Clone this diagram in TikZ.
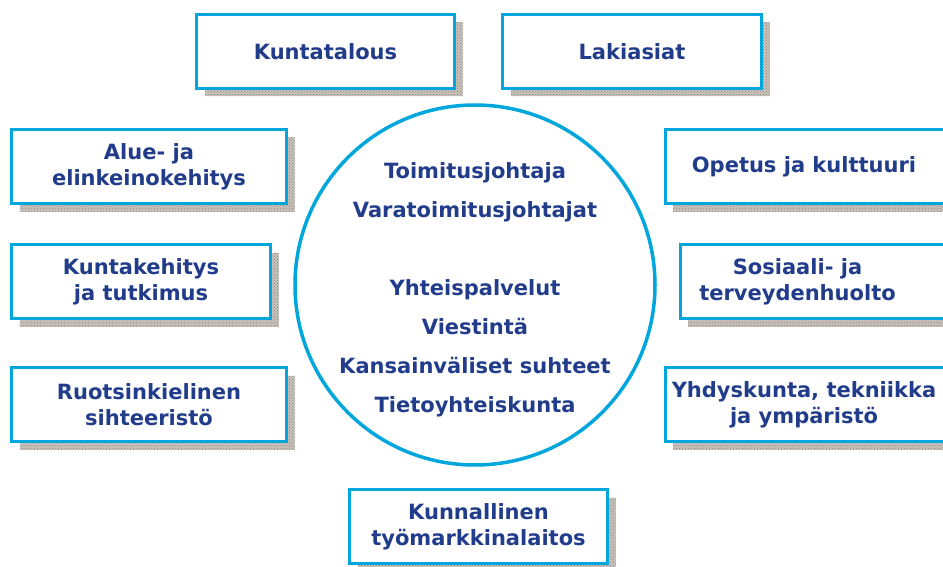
\documentclass[tikz,border=0pt]{standalone}
\usepackage{fontspec}
\setmainfont{DejaVu Sans}
\usepackage{tikz}
\usetikzlibrary{shadows,patterns}

\definecolor{kuntaCyan}{RGB}{0,166,220}
\definecolor{kuntaBlue}{RGB}{33,60,138}
\definecolor{shadowGray}{RGB}{140,130,120}
\definecolor{shadowLight}{RGB}{200,195,188}

\tikzset{
    unitbox/.style={draw=kuntaCyan, line width=3pt, fill=white,
        minimum height=74pt, inner sep=0pt, align=center,
        font=\bfseries\fontsize{21}{26}\selectfont, text=kuntaBlue,
        copy shadow={shadow xshift=8pt, shadow yshift=-8pt, draw=none,
            fill=shadowLight,
            postaction={pattern=crosshatch dots, pattern color=shadowGray}}},
    unittext/.style={align=center, font=\bfseries\fontsize{21}{26}\selectfont,
        text=kuntaBlue},
    circtext/.style={align=center, font=\bfseries\fontsize{21}{39}\selectfont,
        text=kuntaBlue}
}

\begin{document}
\begin{tikzpicture}[x=1pt,y=-1pt]
        \useasboundingbox (0,0) rectangle (943,567);

        % central circle
        \draw[kuntaCyan, line width=3.5pt] (475,285) circle (180);
        \node[circtext] (johto) at (475,192) {Toimitusjohtaja\\Varatoimitusjohtajat};
        \node[circtext] (yhteis) at (475,348.5) {Yhteispalvelut\\Viestintä\\Kansainväliset suhteet\\Tietoyhteiskunta};

        % units round the circle
        \node[unitbox, minimum width=258pt] (talous) at (325.5,51.5) {Kuntatalous};
        \node[unitbox, minimum width=259pt] (laki) at (632,51.5) {Lakiasiat};
        \node[unitbox, minimum width=275pt] (alue) at (149,166.5) {Alue- ja\\elinkeinokehitys};
        \node[unitbox, minimum width=259pt] (kehitys) at (141,281.5) {Kuntakehitys\\ja tutkimus};
        \node[unitbox, minimum width=275pt] (ruotsi) at (149,404.5) {Ruotsinkielinen\\sihteeristö};
        \node[unitbox, minimum width=258pt] (tyomarkkina) at (478.5,526.5) {Kunnallinen\\työmarkkinalaitos};

        % right-hand units run past the page edge
        \node[unitbox, minimum width=300pt, anchor=west] (opetus) at (663.5,166.5) {};
        \node[unittext] (opetusT) at (804,166.5) {Opetus ja kulttuuri};
        \node[unitbox, minimum width=300pt, anchor=west] (sosiaali) at (678.5,281.5) {};
        \node[unittext] (sosiaaliT) at (797.5,281.5) {Sosiaali- ja\\terveydenhuolto};
        \node[unitbox, minimum width=300pt, anchor=west] (yhdyskunta) at (663.5,404.5) {};
        \node[unittext] (yhdyskuntaT) at (804,404.5) {Yhdyskunta, tekniikka\\ja ympäristö};
    \end{tikzpicture}
\end{document}
